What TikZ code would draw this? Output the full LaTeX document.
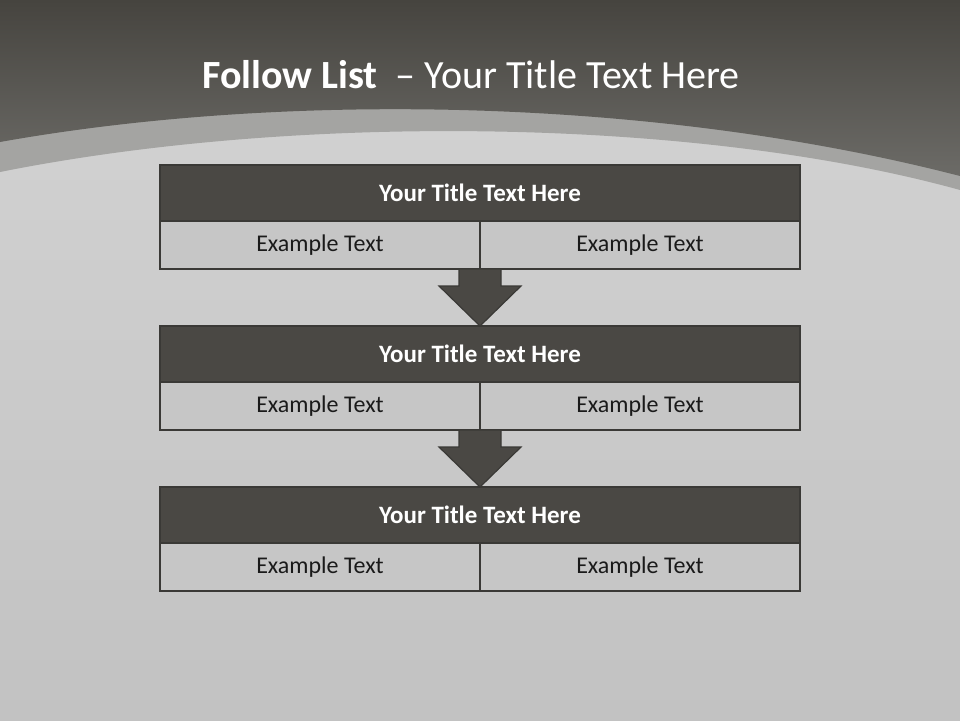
\documentclass[tikz,border=0pt]{standalone}
\usepackage{fontspec}
\setmainfont{Carlito}
\usepackage{tikz}
\usetikzlibrary{positioning}

\begin{document}
\begin{tikzpicture}[x=1pt, y=-1pt,
    titlebox/.style={rectangle, draw=boxline, fill=boxdark, line width=2pt, outer sep=0pt,
        minimum width=640pt, minimum height=56pt, text=white, font=\fontsize{25}{30}\selectfont\bfseries},
    cellbox/.style={rectangle, draw=boxline, fill=cellgray, line width=2pt, outer sep=0pt,
        minimum width=320pt, minimum height=48pt, text=celltext, font=\fontsize{24}{29}\selectfont},
    downarrow/.style={draw=boxline, fill=boxdark, line width=1.2pt, line join=miter}]
    % greys taken from the slide
    \definecolor{boxdark}{HTML}{4A4844}
    \definecolor{boxline}{HTML}{3A3936}
    \definecolor{cellgray}{HTML}{C6C6C6}
    \definecolor{celltext}{HTML}{1A1A1A}
    \definecolor{bandgray}{HTML}{A4A4A2}
    \definecolor{headtop}{HTML}{46443F}
    \definecolor{headbottom}{HTML}{6C6B67}
    \definecolor{bgtop}{HTML}{D4D4D4}
    \definecolor{bgbottom}{HTML}{C2C2C2}
    \useasboundingbox (0,0) rectangle (960,720);
    % background and header
    \shade[top color=bgtop, bottom color=bgbottom] (0,0) rectangle (960,720);
    \fill[bandgray] (0,0) -- (0,172) .. controls (300,112) and (700,118) .. (960,190) -- (960,0) -- cycle;
    \shade[top color=headtop, bottom color=headbottom] (0,0) -- (0,142) .. controls (280,92) and (650,96) .. (960,176) -- (960,0) -- cycle;
    \node[text=white, font=\fontsize{40}{48}\selectfont] (title) at (471,75) {\textbf{Follow List} \ – Your Title Text Here};
    % first block
    \node[titlebox] (t1) at (480,193) {Your Title Text Here};
    \node[cellbox, below right=0pt of t1.south west] (c1l) {Example Text};
    \node[cellbox, right=0pt of c1l] (c1r) {Example Text};
    % second block
    \node[titlebox] (t2) at (480,354) {Your Title Text Here};
    \node[cellbox, below right=0pt of t2.south west] (c2l) {Example Text};
    \node[cellbox, right=0pt of c2l] (c2r) {Example Text};
    % third block
    \node[titlebox] (t3) at (480,515) {Your Title Text Here};
    \node[cellbox, below right=0pt of t3.south west] (c3l) {Example Text};
    \node[cellbox, right=0pt of c3l] (c3r) {Example Text};
    % arrows between blocks
    \draw[downarrow] ([xshift=-21pt]c1l.south east) -- ([xshift=-21pt,yshift=-17pt]c1l.south east)
        -- ([xshift=-41pt,yshift=-17pt]c1l.south east) -- (t2.north)
        -- ([xshift=41pt,yshift=-17pt]c1l.south east) -- ([xshift=21pt,yshift=-17pt]c1l.south east)
        -- ([xshift=21pt]c1l.south east) -- cycle;
    \draw[downarrow] ([xshift=-21pt]c2l.south east) -- ([xshift=-21pt,yshift=-17pt]c2l.south east)
        -- ([xshift=-41pt,yshift=-17pt]c2l.south east) -- (t3.north)
        -- ([xshift=41pt,yshift=-17pt]c2l.south east) -- ([xshift=21pt,yshift=-17pt]c2l.south east)
        -- ([xshift=21pt]c2l.south east) -- cycle;
\end{tikzpicture}
\end{document}
